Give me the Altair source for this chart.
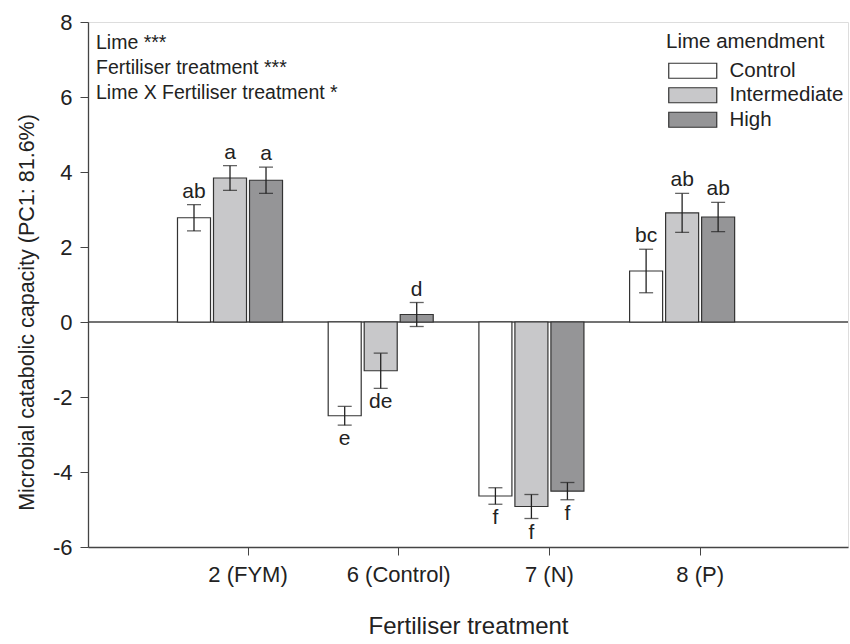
import altair as alt
import pandas as pd

fert = ["2 (FYM)", "6 (Control)", "7 (N)", "8 (P)"]
lime = ["Control", "Intermediate", "High"]
means = {
    "2 (FYM)": [2.78, 3.84, 3.78],
    "6 (Control)": [-2.50, -1.30, 0.20],
    "7 (N)": [-4.64, -4.92, -4.51],
    "8 (P)": [1.36, 2.91, 2.80],
}
ses = {
    "2 (FYM)": [0.35, 0.33, 0.35],
    "6 (Control)": [0.25, 0.47, 0.32],
    "7 (N)": [0.22, 0.32, 0.23],
    "8 (P)": [0.58, 0.52, 0.39],
}
letters = {
    "2 (FYM)": ["ab", "a", "a"],
    "6 (Control)": ["e", "de", "d"],
    "7 (N)": ["f", "f", "f"],
    "8 (P)": ["bc", "ab", "ab"],
}
fills = ["#ffffff", "#c8c8ca", "#959597"]
notes = ["Lime ***", "Fertiliser treatment ***", "Lime X Fertiliser treatment *"]

rows = []
for f in fert:
    for i, l in enumerate(lime):
        rows.append({"fert": f, "lime": l, "mean": means[f][i], "se": ses[f][i], "letter": letters[f][i]})
df = pd.DataFrame(rows)
df["lo"] = df["mean"] - df["se"]
df["hi"] = df["mean"] + df["se"]

FONT = "Liberation Sans"

x = alt.X("fert:N", sort=fert,
          scale=alt.Scale(paddingInner=0.045, paddingOuter=0.544, align=0.537),
          axis=alt.Axis(title="Fertiliser treatment", labelAngle=0, labelFontSize=22,
                        titleFontSize=24, labelPadding=9, titlePadding=29,
                        tickSize=8, labelColor="#222", titleColor="#222",
                        domainColor="#444", tickColor="#444", domainWidth=1.3,
                        titleFontWeight="normal", labelFont=FONT, titleFont=FONT))
xo = alt.XOffset("lime:N", sort=lime + [" "],
                 scale=alt.Scale(domain=lime + [" "], paddingInner=0.083, paddingOuter=0.04))
yscale = alt.Scale(domain=[-6, 8], nice=False, zero=False)
y_axis = alt.Axis(title="Microbial catabolic capacity (PC1: 81.6%)", values=[-6, -4, -2, 0, 2, 4, 6, 8],
                  labelExpr="replace(datum.label, '\u2212', '-')",
                  grid=False, labelFontSize=22, titleFontSize=21.5, tickSize=8, labelPadding=8,
                  titlePadding=14, labelColor="#222", titleColor="#222", domainColor="#444",
                  tickColor="#444", domainWidth=1.3, titleFontWeight="normal",
                  labelFont=FONT, titleFont=FONT, titleY=290)

base = alt.Chart(df)

bars = base.mark_bar(stroke="#333", strokeWidth=1.2).encode(
    x=x, xOffset=xo,
    y=alt.Y("mean:Q", scale=yscale, axis=y_axis),
    y2=alt.datum(0),
    fill=alt.Fill("lime:N", sort=lime,
                  scale=alt.Scale(domain=lime, range=fills),
                  legend=alt.Legend(title="Lime amendment", orient="none", legendX=578, legendY=10,
                                    titleFontSize=20.5, labelFontSize=20.5, titleFont=FONT, labelFont=FONT,
                                    titleFontWeight="normal", titleColor="#222", labelColor="#222",
                                    symbolType="M-1,-1H5.4V1H-1Z", symbolSize=225,
                                    symbolStrokeColor="#333", symbolStrokeWidth=1.2,
                                    symbolOpacity=1, labelOffset=43, rowPadding=3.5,
                                    titlePadding=8)),
)

zero = alt.Chart(pd.DataFrame({"z": [0]})).mark_rule(color="#444", strokeWidth=1.3).encode(
    y=alt.Y("z:Q", scale=yscale)
)

err = base.mark_rule(color="#222", strokeWidth=1.3).encode(
    x=x, xOffset=xo, y=alt.Y("lo:Q", scale=yscale), y2="hi:Q"
)
cap_lo = base.mark_tick(color="#222", thickness=1.3, size=14, orient="horizontal").encode(
    x=x, xOffset=xo, y=alt.Y("lo:Q", scale=yscale)
)
cap_hi = base.mark_tick(color="#222", thickness=1.3, size=14, orient="horizontal").encode(
    x=x, xOffset=xo, y=alt.Y("hi:Q", scale=yscale)
)

lab_up = base.transform_filter("datum.mean >= 0").mark_text(
    fontSize=21, font=FONT, color="#222", baseline="alphabetic", dy=-7
).encode(x=x, xOffset=xo, y=alt.Y("hi:Q", scale=yscale), text="letter:N")
lab_dn = base.transform_filter("datum.mean < 0").mark_text(
    fontSize=21, font=FONT, color="#222", baseline="alphabetic", dy=20
).encode(x=x, xOffset=xo, y=alt.Y("lo:Q", scale=yscale), text="letter:N")

note = alt.Chart(pd.DataFrame({"t": [notes]})).mark_text(
    fontSize=19.5, font=FONT, color="#222", align="left", baseline="top", lineHeight=25
).encode(x=alt.value(8), y=alt.value(12), text="t")

chart = alt.layer(zero, bars, err, cap_lo, cap_hi, lab_up, lab_dn, note).properties(
    width=760, height=525,
    autosize=alt.AutoSizeParams(type="none"),
    padding={"left": 88, "top": 22, "right": 2, "bottom": 97},
).configure_view(stroke="#555", strokeWidth=1.3).configure(background="white")

chart.save("out.html", embed_options={"renderer": "svg", "actions": False})
